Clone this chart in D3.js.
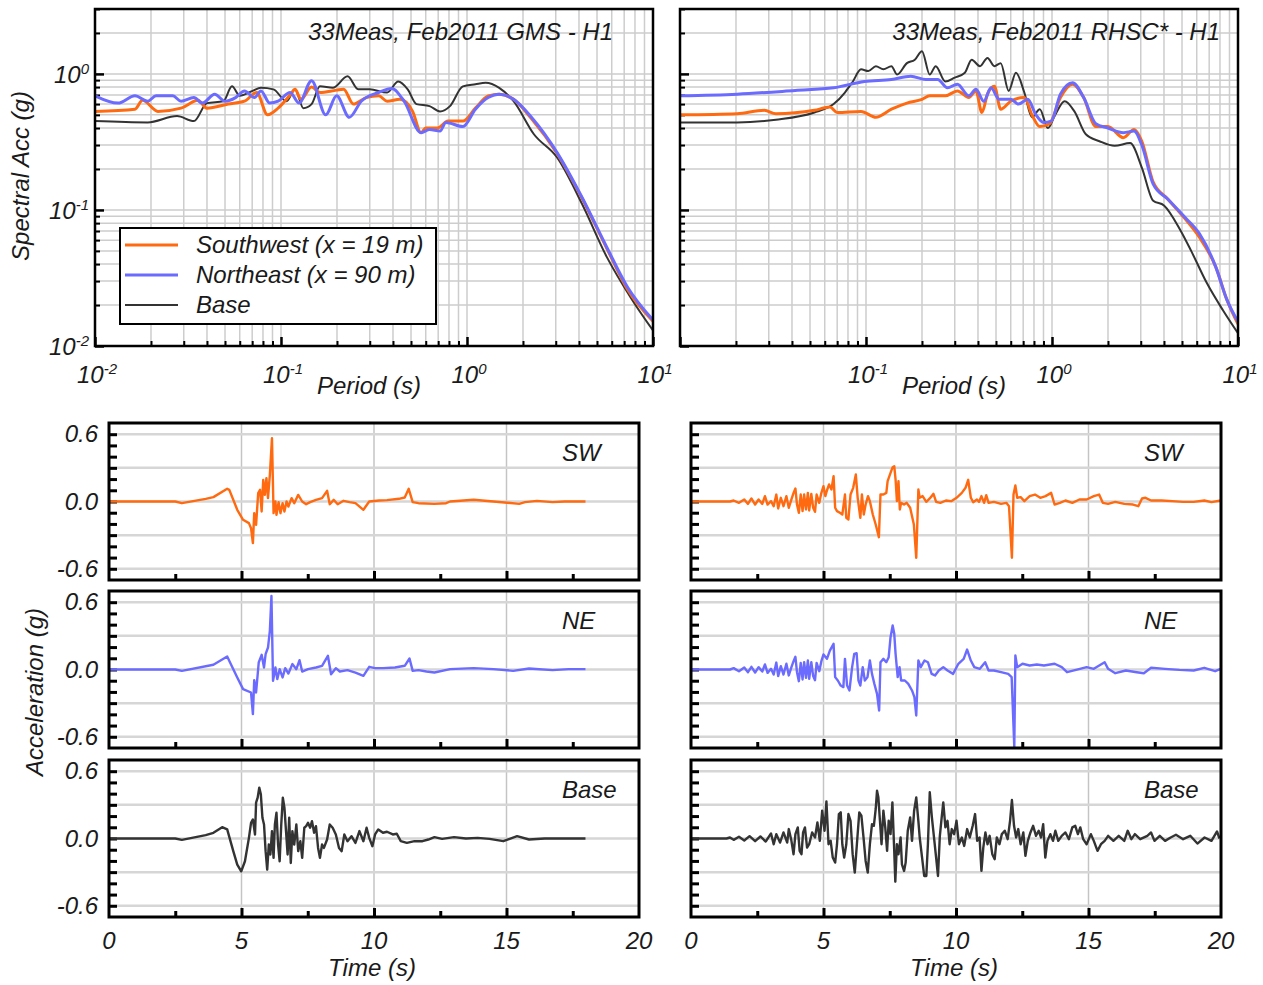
<!DOCTYPE html>
<html><head><meta charset="utf-8">
<script src="https://cdn.jsdelivr.net/npm/d3@7"></script>
<style>
body{margin:0;background:#fff}
text{font-family:"Liberation Sans",Arial,sans-serif;font-style:italic;fill:#1a1a1a}
</style>
</head><body>
<svg id="c" width="1263" height="985" xmlns="http://www.w3.org/2000/svg"></svg>
<script>
// ---------------- DATA ----------------
// Response spectra: [period (s), spectral acceleration (g)]
const gmsSW = [[0.01,0.53],[0.0164,0.55],[0.018,0.64],[0.0218,0.53],[0.029,0.56],[0.0358,0.64],[0.040,0.56],[0.052,0.60],[0.0636,0.63],[0.074,0.73],[0.0847,0.50],[0.0965,0.56],[0.112,0.70],[0.119,0.77],[0.128,0.65],[0.146,0.80],[0.162,0.73],[0.199,0.76],[0.217,0.77],[0.245,0.60],[0.287,0.67],[0.335,0.69],[0.372,0.63],[0.436,0.65],[0.51,0.53],[0.566,0.37],[0.60,0.40],[0.695,0.40],[0.79,0.45],[0.95,0.45],[1.11,0.56],[1.30,0.69],[1.49,0.71],[1.78,0.65],[2.22,0.47],[3.05,0.26],[4.15,0.122],[5.65,0.052],[7.3,0.026],[10,0.0152]];
const gmsNE = [[0.01,0.69],[0.0133,0.61],[0.0164,0.69],[0.0192,0.63],[0.0213,0.69],[0.0262,0.69],[0.029,0.63],[0.034,0.67],[0.0378,0.61],[0.044,0.71],[0.050,0.63],[0.057,0.67],[0.0636,0.75],[0.072,0.67],[0.078,0.75],[0.087,0.61],[0.0965,0.63],[0.112,0.73],[0.125,0.61],[0.146,0.89],[0.174,0.50],[0.199,0.69],[0.233,0.48],[0.27,0.63],[0.335,0.73],[0.394,0.78],[0.459,0.63],[0.566,0.37],[0.629,0.39],[0.716,0.38],[0.77,0.44],[0.95,0.41],[1.11,0.55],[1.30,0.67],[1.49,0.71],[1.78,0.65],[2.22,0.48],[3.05,0.264],[4.15,0.124],[5.65,0.053],[7.3,0.027],[10,0.0155]];
const gmsBase = [[0.01,0.45],[0.0192,0.44],[0.0276,0.49],[0.034,0.45],[0.040,0.61],[0.049,0.63],[0.0545,0.81],[0.060,0.69],[0.0703,0.75],[0.078,0.79],[0.091,0.77],[0.107,0.63],[0.119,0.77],[0.132,0.56],[0.146,0.60],[0.162,0.81],[0.19,0.79],[0.228,0.96],[0.26,0.77],[0.30,0.77],[0.372,0.73],[0.427,0.88],[0.48,0.77],[0.535,0.60],[0.629,0.58],[0.716,0.53],[0.81,0.58],[0.95,0.81],[1.11,0.84],[1.26,0.86],[1.49,0.79],[1.78,0.63],[2.29,0.36],[3.05,0.243],[4.15,0.111],[5.65,0.045],[7.7,0.022],[10,0.013]];
const rhscSW = [[0.01,0.50],[0.0203,0.51],[0.0284,0.54],[0.0328,0.51],[0.0528,0.54],[0.064,0.57],[0.070,0.52],[0.094,0.53],[0.113,0.48],[0.137,0.55],[0.166,0.61],[0.20,0.65],[0.22,0.69],[0.267,0.69],[0.31,0.75],[0.357,0.67],[0.39,0.75],[0.42,0.52],[0.45,0.71],[0.49,0.81],[0.53,0.55],[0.60,0.63],[0.71,0.67],[0.78,0.50],[0.86,0.41],[0.97,0.43],[1.11,0.67],[1.29,0.84],[1.48,0.67],[1.72,0.41],[2.0,0.41],[2.42,0.34],[2.76,0.39],[3.04,0.32],[3.5,0.16],[4.2,0.12],[5.2,0.086],[6.2,0.063],[7.6,0.038],[8.7,0.022],[10,0.0145]];
const rhscNE = [[0.01,0.69],[0.0203,0.71],[0.0416,0.755],[0.067,0.79],[0.098,0.88],[0.137,0.91],[0.174,0.96],[0.21,0.91],[0.243,0.91],[0.274,0.79],[0.31,0.84],[0.357,0.69],[0.39,0.77],[0.43,0.63],[0.47,0.79],[0.52,0.65],[0.60,0.65],[0.66,0.60],[0.74,0.65],[0.82,0.50],[0.90,0.44],[0.99,0.45],[1.11,0.71],[1.29,0.86],[1.48,0.67],[1.72,0.43],[2.0,0.40],[2.42,0.37],[2.76,0.38],[3.04,0.30],[3.5,0.155],[4.2,0.12],[5.2,0.088],[6.2,0.067],[7.6,0.038],[8.7,0.022],[10,0.0151]];
const rhscBase = [[0.01,0.44],[0.0203,0.44],[0.0328,0.46],[0.0528,0.52],[0.067,0.60],[0.077,0.73],[0.085,0.88],[0.094,1.08],[0.103,1.05],[0.113,1.14],[0.124,1.08],[0.137,1.14],[0.147,0.99],[0.166,1.20],[0.183,1.27],[0.20,1.47],[0.22,0.99],[0.237,1.14],[0.267,0.88],[0.30,0.94],[0.34,1.02],[0.37,1.27],[0.41,1.14],[0.45,1.31],[0.49,1.14],[0.53,1.20],[0.585,0.75],[0.64,1.02],[0.71,0.73],[0.78,0.48],[0.86,0.55],[0.95,0.40],[1.04,0.50],[1.17,0.63],[1.32,0.53],[1.52,0.36],[1.8,0.32],[2.17,0.296],[2.63,0.31],[3.04,0.205],[3.5,0.117],[4.0,0.108],[4.9,0.071],[5.6,0.050],[6.8,0.029],[8.3,0.0183],[10,0.0124]];

// Acceleration time histories: [time (s), acceleration (g)]
const gmsTH_SW = [[0,0],[2.5,0],[2.75,-0.015],[3.65,0.024],[3.94,0.039],[4.46,0.113],[4.54,0.104],[4.84,-0.074],[5.06,-0.163],[5.28,-0.193],[5.36,-0.238],[5.43,-0.371],[5.48,-0.104],[5.55,-0.208],[5.63,0.074],[5.70,0.104],[5.76,-0.089],[5.82,0.193],[5.88,0.059],[5.94,0.208],[6.00,0.030],[6.07,0.238],[6.15,0.564],[6.21,-0.104],[6.28,0],[6.32,-0.119],[6.40,-0.006],[6.47,-0.104],[6.55,-0.015],[6.62,-0.089],[6.70,0],[6.77,-0.045],[6.89,0.030],[6.99,-0.015],[7.14,0.059],[7.29,0],[7.44,-0.024],[7.59,-0.006],[7.81,0.015],[8.04,0.030],[8.23,0.095],[8.33,-0.024],[8.48,0.015],[8.63,-0.024],[8.85,0.006],[9.08,-0.006],[9.30,-0.015],[9.60,-0.074],[9.82,0],[10.19,0.009],[10.49,0.012],[10.94,0.024],[11.16,0.036],[11.31,0.113],[11.46,-0.006],[11.68,-0.015],[12.28,-0.021],[12.72,-0.015],[12.87,0],[13.76,0.015],[14.51,0],[15.48,-0.021],[15.70,-0.006],[16.15,0.006],[16.74,-0.006],[17.19,0],[17.98,0]];
const gmsTH_NE = [[0,0],[2.5,0],[2.75,-0.012],[3.94,0.042],[4.46,0.116],[4.84,-0.071],[5.06,-0.175],[5.36,-0.205],[5.43,-0.398],[5.48,-0.095],[5.55,-0.205],[5.65,0.062],[5.76,0.131],[5.85,0.018],[5.91,0.137],[6.00,0.196],[6.07,0.345],[6.13,0.656],[6.19,-0.101],[6.28,0.018],[6.35,-0.086],[6.44,0.003],[6.55,-0.071],[6.65,0.012],[6.77,-0.036],[6.92,0.048],[7.07,0.003],[7.19,0.083],[7.29,-0.018],[7.51,0.003],[7.81,0.018],[8.04,0.033],[8.26,0.122],[8.38,-0.042],[8.56,0.012],[8.71,-0.018],[9.00,-0.006],[9.30,-0.027],[9.60,-0.056],[9.82,0.024],[10.04,0.012],[10.34,0.012],[10.79,0.018],[11.16,0.033],[11.34,0.098],[11.46,-0.012],[11.68,-0.006],[11.98,-0.018],[12.28,-0.027],[12.87,0.003],[13.76,0.012],[14.51,0.003],[15.25,-0.012],[15.85,0.009],[16.74,-0.006],[17.34,0.003],[17.98,0.003]];
const gmsTH_Base = [[0,0],[2.5,0],[2.75,-0.012],[3.65,0.030],[3.94,0.051],[4.27,0.101],[4.46,0.081],[4.69,-0.113],[4.84,-0.233],[4.99,-0.293],[5.13,-0.203],[5.28,0.006],[5.36,0.140],[5.43,0.170],[5.51,0.036],[5.55,0.319],[5.61,0.364],[5.67,0.454],[5.73,0.394],[5.79,0.185],[5.85,0.125],[5.91,-0.113],[5.97,-0.278],[6.03,-0.054],[6.09,-0.143],[6.15,0.066],[6.21,-0.173],[6.26,0.125],[6.32,0.230],[6.38,-0.054],[6.44,-0.203],[6.50,0.125],[6.56,0.364],[6.62,0.275],[6.68,0.066],[6.74,-0.143],[6.80,0.185],[6.86,-0.218],[6.92,0.066],[6.99,-0.054],[7.07,0.125],[7.14,-0.113],[7.22,-0.024],[7.29,-0.173],[7.37,0.096],[7.44,0.110],[7.51,0.140],[7.59,0.096],[7.66,0.155],[7.74,0.051],[7.81,0.110],[7.89,-0.084],[7.96,-0.173],[8.04,-0.054],[8.11,-0.084],[8.23,-0.009],[8.33,0.125],[8.44,0.096],[8.56,0.036],[8.68,-0.084],[8.78,-0.113],[8.88,0.036],[9.00,-0.024],[9.15,0.021],[9.30,-0.039],[9.45,0.066],[9.60,-0.024],[9.72,0.096],[9.82,0.006],[9.94,-0.069],[10.04,0.036],[10.16,0.081],[10.34,0.051],[10.49,0.060],[10.71,0.036],[10.86,0.042],[11.01,-0.024],[11.24,-0.039],[11.53,-0.024],[11.83,-0.024],[12.05,-0.009],[12.28,0.012],[12.57,-0.003],[13.02,0.012],[13.47,0],[13.91,0.006],[14.36,-0.003],[14.88,-0.024],[15.40,0.021],[15.85,-0.009],[16.44,0],[17.04,0],[17.98,0]];
const rhscTH_SW = [[0,0],[1.47,0],[1.61,0.009],[1.81,-0.012],[2.01,0.018],[2.15,-0.021],[2.28,0.027],[2.42,-0.027],[2.55,0.018],[2.69,-0.021],[2.79,0.048],[2.89,-0.027],[3.02,0.003],[3.12,-0.042],[3.22,0.062],[3.29,-0.062],[3.39,0.033],[3.49,-0.042],[3.60,0.048],[3.69,-0.056],[3.79,0.018],[3.87,0.077],[3.94,0.116],[4.00,-0.027],[4.07,-0.101],[4.14,0.062],[4.21,-0.086],[4.27,0.062],[4.34,-0.071],[4.41,0.077],[4.46,-0.080],[4.54,0.068],[4.61,-0.056],[4.68,-0.092],[4.74,0.062],[4.84,-0.012],[4.92,0.077],[5.00,0.137],[5.07,0.048],[5.13,0.098],[5.21,0.152],[5.30,0.107],[5.38,0.226],[5.44,-0.056],[5.51,-0.086],[5.62,-0.101],[5.71,-0.116],[5.81,0.062],[5.86,-0.146],[5.94,-0.160],[6.02,0.062],[6.12,0.122],[6.22,0.241],[6.29,0.033],[6.39,-0.146],[6.45,0.062],[6.52,-0.116],[6.59,-0.027],[6.68,0.048],[6.75,0.003],[6.86,-0.116],[6.97,-0.205],[7.09,-0.318],[7.15,0.062],[7.26,0.062],[7.37,0.077],[7.42,0.181],[7.53,0.255],[7.61,0.306],[7.67,0.315],[7.72,0.196],[7.77,0.003],[7.83,0.181],[7.88,-0.071],[7.93,-0.012],[8.04,-0.027],[8.14,-0.012],[8.27,-0.056],[8.41,-0.205],[8.50,-0.502],[8.58,0.107],[8.63,0.033],[8.74,0.048],[8.88,-0.003],[9.01,0.027],[9.15,0.068],[9.25,-0.003],[9.41,-0.012],[9.62,0.009],[9.82,0.003],[10.02,0.033],[10.22,0.077],[10.36,0.122],[10.46,0.193],[10.56,0.033],[10.65,-0.006],[10.79,0.018],[10.87,-0.003],[10.96,0.048],[11.06,-0.012],[11.14,0.056],[11.23,-0.012],[11.43,-0.003],[11.70,-0.021],[11.90,-0.012],[12.00,-0.042],[12.11,-0.502],[12.17,0.062],[12.24,0.143],[12.31,0.033],[12.44,0.039],[12.58,0.003],[12.78,0.048],[12.98,0.062],[13.18,0.033],[13.38,0.048],[13.59,0.077],[13.72,-0.027],[13.92,-0.012],[14.13,0.009],[14.39,-0.012],[14.66,0.018],[14.93,0.018],[15.20,0.048],[15.40,0.062],[15.54,-0.012],[15.74,-0.021],[16.01,-0.003],[16.35,-0.021],[16.68,-0.027],[16.88,-0.042],[17.02,0.027],[17.15,0.033],[17.36,0.009],[17.76,0.009],[18.16,0.003],[18.57,-0.003],[18.97,-0.003],[19.37,0.009],[19.64,-0.006],[19.99,0.009]];
const rhscTH_NE = [[0,0],[1.47,0],[1.61,0.012],[1.81,-0.015],[2.01,0.018],[2.15,-0.024],[2.28,0.024],[2.42,-0.027],[2.55,0.021],[2.69,-0.018],[2.79,0.045],[2.89,-0.030],[3.02,0.006],[3.12,-0.045],[3.22,0.062],[3.29,-0.059],[3.39,0.030],[3.49,-0.045],[3.60,0.051],[3.69,-0.053],[3.79,0.021],[3.87,0.074],[3.94,0.113],[4.00,-0.024],[4.07,-0.104],[4.14,0.059],[4.21,-0.089],[4.27,0.065],[4.34,-0.074],[4.41,0.080],[4.46,-0.083],[4.54,0.065],[4.61,-0.059],[4.68,-0.095],[4.74,0.059],[4.84,-0.015],[4.92,0.074],[5.00,0.134],[5.13,0.095],[5.24,0.169],[5.38,0.229],[5.44,-0.068],[5.54,-0.098],[5.65,-0.143],[5.75,-0.157],[5.81,0.095],[5.89,-0.143],[5.98,-0.187],[6.08,0.021],[6.16,0.139],[6.25,0.145],[6.32,-0.098],[6.39,-0.143],[6.48,0.021],[6.56,-0.098],[6.66,-0.068],[6.75,0.080],[6.83,-0.039],[6.92,-0.128],[7.02,-0.217],[7.10,-0.366],[7.15,0.065],[7.26,0.095],[7.37,0.065],[7.46,0.110],[7.53,0.288],[7.61,0.392],[7.67,0.318],[7.72,0.140],[7.80,-0.068],[7.87,0.021],[7.93,-0.098],[8.07,-0.098],[8.20,-0.128],[8.34,-0.187],[8.43,-0.247],[8.50,-0.410],[8.58,0.080],[8.67,0.021],[8.81,0.080],[8.94,0.065],[9.08,-0.039],[9.21,-0.053],[9.35,-0.009],[9.52,0.021],[9.68,-0.009],[9.89,-0.039],[10.09,0.051],[10.29,0.095],[10.42,0.178],[10.56,0.080],[10.69,0.021],[10.90,0.006],[11.10,0.065],[11.23,-0.009],[11.43,-0.009],[11.70,-0.024],[11.97,-0.039],[12.10,-0.068],[12.20,-0.690],[12.24,0.125],[12.31,0.021],[12.51,0.051],[12.78,0.036],[13.05,0.045],[13.32,0.036],[13.72,0.051],[13.99,0.021],[14.19,-0.024],[14.53,-0.003],[14.93,0.021],[15.20,0.006],[15.61,0.065],[15.74,0.006],[16.01,-0.033],[16.41,-0.009],[16.82,-0.024],[17.09,-0.033],[17.36,0.015],[17.89,0.006],[18.43,-0.003],[18.97,-0.009],[19.37,0.015],[19.78,-0.015],[19.99,0.006]];
const rhscTH_Base = [[0,0],[1.34,0],[1.47,0.009],[1.61,-0.012],[1.81,0.015],[2.01,-0.018],[2.21,0.021],[2.42,-0.024],[2.62,0.018],[2.82,-0.027],[3.02,0.045],[3.12,-0.051],[3.22,0.039],[3.36,-0.036],[3.49,0.054],[3.63,-0.036],[3.69,0.084],[3.79,-0.021],[3.87,-0.140],[3.94,0.039],[4.03,0.099],[4.10,-0.110],[4.17,-0.140],[4.23,0.054],[4.30,0.099],[4.38,-0.081],[4.46,-0.051],[4.57,0.054],[4.68,0.009],[4.77,0.143],[4.86,-0.021],[4.95,0.248],[5.04,0.069],[5.11,0.331],[5.19,-0.051],[5.27,-0.021],[5.35,-0.170],[5.44,-0.215],[5.51,-0.051],[5.58,0.218],[5.65,0.233],[5.71,-0.051],[5.78,-0.170],[5.86,-0.051],[5.94,0.218],[6.02,0.158],[6.10,-0.140],[6.18,-0.304],[6.26,-0.051],[6.35,0.233],[6.43,0.203],[6.51,0.009],[6.59,-0.200],[6.67,-0.304],[6.75,-0.051],[6.83,0.128],[6.90,0.113],[6.97,0.263],[7.02,0.427],[7.07,0.367],[7.13,0.158],[7.19,-0.051],[7.26,0.248],[7.33,0.099],[7.40,-0.110],[7.46,0.158],[7.53,0.039],[7.60,0.322],[7.66,-0.051],[7.71,-0.385],[7.77,-0.051],[7.83,-0.140],[7.91,0.009],[7.96,-0.230],[8.04,-0.289],[8.10,-0.215],[8.18,0.069],[8.27,0.188],[8.34,-0.021],[8.42,0.248],[8.50,0.367],[8.58,0.158],[8.63,0.009],[8.72,-0.170],[8.80,-0.334],[8.88,-0.334],[8.94,-0.051],[9.01,0.412],[9.09,0.188],[9.17,0.009],[9.25,-0.170],[9.32,-0.334],[9.39,0.021],[9.46,0.188],[9.52,0.322],[9.60,0.099],[9.68,0.158],[9.76,-0.051],[9.84,0.084],[9.93,0.039],[10.02,0.158],[10.11,-0.051],[10.22,0.009],[10.31,-0.066],[10.42,0.084],[10.52,0.009],[10.63,0.113],[10.72,0.218],[10.80,-0.021],[10.89,0.009],[10.96,-0.289],[11.03,-0.081],[11.11,0.054],[11.19,-0.051],[11.27,0.024],[11.37,-0.140],[11.46,-0.185],[11.54,0.009],[11.64,-0.051],[11.73,0.039],[11.84,0.069],[11.95,-0.006],[12.04,0.158],[12.11,0.343],[12.19,0.113],[12.27,0.009],[12.35,0.084],[12.44,-0.051],[12.54,0.054],[12.62,-0.155],[12.71,-0.021],[12.81,0.054],[12.91,0.113],[13.02,0.024],[13.12,0.069],[13.21,0.009],[13.29,0.128],[13.37,-0.170],[13.45,-0.021],[13.56,0.039],[13.66,-0.021],[13.75,0.069],[13.86,-0.021],[13.99,0.024],[14.13,0.054],[14.26,-0.006],[14.39,0.099],[14.50,0.113],[14.60,0.039],[14.69,0.099],[14.80,-0.006],[14.93,-0.051],[15.09,0.039],[15.20,-0.021],[15.34,-0.110],[15.47,-0.051],[15.61,-0.021],[15.74,0.024],[15.94,-0.021],[16.14,0.024],[16.35,-0.021],[16.48,0.069],[16.62,-0.006],[16.75,0.039],[16.95,-0.006],[17.22,0.024],[17.36,0.054],[17.49,-0.021],[17.69,0.024],[17.89,-0.021],[18.10,0.009],[18.30,0.033],[18.57,-0.006],[18.84,0.024],[19.11,-0.045],[19.38,0.009],[19.64,-0.021],[19.85,0.063],[19.94,0]];

// Text / tick labels
const specTitles = ["33Meas, Feb2011 GMS - H1", "33Meas, Feb2011 RHSC* - H1"];
const legendLabels = ["Southwest (x = 19 m)", "Northeast (x = 90 m)", "Base"];
const rowLabels = ["SW", "NE", "Base"];
const accTicks = [0.6, 0.0, -0.6];
const timeTicks = [0, 5, 10, 15, 20];

// ---------------- DRAWING ----------------
const COL = {sw: "#ff6a10", ne: "#6b6bff", base: "#333333"};
const GRID = "#cdcdcd";
const FS = "24px";
const svg = d3.select("#c");
const defs = svg.append("defs");
let clipN = 0;

function clip(x0, y0, w, h) {
  const id = "cp" + (clipN++);
  defs.append("clipPath").attr("id", id).append("rect").attr("x", x0).attr("y", y0).attr("width", w).attr("height", h);
  return "url(#" + id + ")";
}

function inwardTicks(g, axisFn, scale, values, len, w) {
  const a = axisFn(scale).tickValues(values).tickSize(-len).tickFormat("");
  g.call(a);
  g.select(".domain").remove();
  g.selectAll(".tick line").attr("stroke", "#000").attr("stroke-width", w || 2);
  g.selectAll(".tick text").remove();
}

function powLabel(g, x, y, exp, anchor) {
  const t = g.append("text").attr("x", x).attr("y", y).attr("text-anchor", anchor).style("font-size", FS);
  t.append("tspan").text("10");
  t.append("tspan").attr("dy", -9).style("font-size", "15px").text(String(exp));
}

// ---- spectra panels ----
const specPanels = [
  {x0: 95, x1: 653, title: specTitles[0], titleX: 613, data: [gmsSW, gmsNE, gmsBase], yLabels: true, xLabels: [-2, -1, 0, 1]},
  {x0: 680, x1: 1238, title: specTitles[1], titleX: 1220, data: [rhscSW, rhscNE, rhscBase], yLabels: false, xLabels: [-1, 0, 1]}
];
const sy0 = 9, sy1 = 346;

specPanels.forEach(p => {
  const g = svg.append("g");
  const x = d3.scaleLog().domain([0.01, 10]).range([p.x0, p.x1]);
  const y = d3.scaleLog().domain([0.01, 3]).range([sy1, sy0]);
  const xMinor = [], yMinor = [], xMajor = [], yMajor = [];
  [0.01, 0.1, 1].forEach(d => { for (let k = 1; k <= 9; k++) { const v = +(k * d).toPrecision(3); (k === 1 ? xMajor : xMinor).push(v); if (v <= 3) (k === 1 ? yMajor : yMinor).push(v); } });
  xMajor.push(10);
  // grid
  g.append("g").selectAll("line").data(xMinor.concat(xMajor).filter(v => v > 0.01 && v < 10)).join("line")
    .attr("x1", d => x(d)).attr("x2", d => x(d)).attr("y1", sy0).attr("y2", sy1).attr("stroke", GRID).attr("stroke-width", 1.5);
  g.append("g").selectAll("line").data(yMinor.concat(yMajor).filter(v => v > 0.01 && v < 3)).join("line")
    .attr("y1", d => y(d)).attr("y2", d => y(d)).attr("x1", p.x0).attr("x2", p.x1).attr("stroke", GRID).attr("stroke-width", 1.5);
  // ticks
  inwardTicks(g.append("g").attr("transform", `translate(0,${sy1})`), d3.axisBottom, x, xMajor, 9, 2.5);
  inwardTicks(g.append("g").attr("transform", `translate(0,${sy1})`), d3.axisBottom, x, xMinor, 5, 2);
  inwardTicks(g.append("g").attr("transform", `translate(${p.x0},0)`), d3.axisLeft, y, yMajor, 9, 2.5);
  inwardTicks(g.append("g").attr("transform", `translate(${p.x0},0)`), d3.axisLeft, y, yMinor, 5, 2);
  // curves
  const line = d3.line().x(d => x(d[0])).y(d => y(d[1])).curve(d3.curveMonotoneX);
  const cp = clip(p.x0, sy0, p.x1 - p.x0, sy1 - sy0);
  const lg = g.append("g").attr("clip-path", cp);
  const styles = [[COL.sw, 3], [COL.ne, 3], [COL.base, 2]];
  [2, 0, 1].forEach(i => {
    lg.append("path").datum(p.data[i]).attr("d", line).attr("fill", "none")
      .attr("stroke", styles[i][0]).attr("stroke-width", styles[i][1]).attr("stroke-linejoin", "round");
  });
  // frame
  g.append("rect").attr("x", p.x0).attr("y", sy0).attr("width", p.x1 - p.x0).attr("height", sy1 - sy0)
    .attr("fill", "none").attr("stroke", "#000").attr("stroke-width", 2.5);
  // title
  g.append("text").attr("x", p.titleX).attr("y", 40).attr("text-anchor", "end").style("font-size", FS).text(p.title);
  // labels
  p.xLabels.forEach(e => powLabel(g, x(Math.pow(10, e)) + 2, 383, e, "middle"));
  if (p.yLabels) {
    [-2, -1, 0].forEach(e => powLabel(g, p.x0 - 6, y(Math.pow(10, e)) + 9, e, "end"));
  }
  g.append("text").attr("x", (p.x0 + p.x1) / 2 - 5).attr("y", 394).attr("text-anchor", "middle").style("font-size", FS).text("Period (s)");
});

// y title for spectra
svg.append("text").attr("transform", "translate(29,176) rotate(-90)").attr("text-anchor", "middle").style("font-size", FS).text("Spectral Acc (g)");

// legend
{
  const lg = svg.append("g");
  lg.append("rect").attr("x", 120).attr("y", 228).attr("width", 316).attr("height", 96).attr("fill", "#fff").attr("stroke", "#000").attr("stroke-width", 2);
  const cols = [[COL.sw, 3], [COL.ne, 3], [COL.base, 2]];
  legendLabels.forEach((t, i) => {
    const yy = 245 + i * 30;
    lg.append("line").attr("x1", 125).attr("x2", 178).attr("y1", yy).attr("y2", yy).attr("stroke", cols[i][0]).attr("stroke-width", cols[i][1]);
    lg.append("text").attr("x", 196).attr("y", yy + 8).style("font-size", FS).text(t);
  });
}

// ---- time-history panels ----
const thCols = [
  {x0: 109, x1: 639, data: [gmsTH_SW, gmsTH_NE, gmsTH_Base], yLabels: true},
  {x0: 691, x1: 1221, data: [rhscTH_SW, rhscTH_NE, rhscTH_Base], yLabels: false}
];
const rowTops = [423, 591, 760];
const rowH = 157;
const rowColors = [COL.sw, COL.ne, COL.base];

thCols.forEach(c => {
  const x = d3.scaleLinear().domain([0, 20]).range([c.x0, c.x1]);
  rowTops.forEach((top, r) => {
    const g = svg.append("g");
    const y = d3.scaleLinear().domain([-0.7, 0.7]).range([top + rowH, top]);
    // grid
    g.append("g").selectAll("line").data([5, 10, 15]).join("line")
      .attr("x1", d => x(d)).attr("x2", d => x(d)).attr("y1", top).attr("y2", top + rowH).attr("stroke", "#c4c4c4").attr("stroke-width", 1.5);
    g.append("g").selectAll("line").data([-0.6, -0.3, 0, 0.3, 0.6]).join("line")
      .attr("y1", d => y(d)).attr("y2", d => y(d)).attr("x1", c.x0).attr("x2", c.x1).attr("stroke", "#d6d6d6").attr("stroke-width", 2.5);
    // ticks
    inwardTicks(g.append("g").attr("transform", `translate(0,${top + rowH})`), d3.axisBottom, x, [5, 10, 15], 9, 3);
    inwardTicks(g.append("g").attr("transform", `translate(0,${top + rowH})`), d3.axisBottom, x, [2.5, 7.5, 12.5, 17.5], 6, 3);
    inwardTicks(g.append("g").attr("transform", `translate(${c.x0},0)`), d3.axisLeft, y, d3.range(-6, 7).map(k => k / 10), 8, 3);
    // trace
    const cp = clip(c.x0, top, c.x1 - c.x0, rowH);
    const line = d3.line().x(d => x(d[0])).y(d => y(d[1]));
    g.append("path").attr("clip-path", cp).datum(c.data[r]).attr("d", line).attr("fill", "none")
      .attr("stroke", rowColors[r]).attr("stroke-width", 2.4).attr("stroke-linejoin", "round");
    // frame
    g.append("rect").attr("x", c.x0).attr("y", top).attr("width", c.x1 - c.x0).attr("height", rowH)
      .attr("fill", "none").attr("stroke", "#000").attr("stroke-width", 3);
    // row label
    g.append("text").attr("x", c.x0 + 453).attr("y", top + 38).style("font-size", FS).text(rowLabels[r]);
    if (c.yLabels) {
      accTicks.forEach(v => g.append("text").attr("x", c.x0 - 11).attr("y", y(v) + 8).attr("text-anchor", "end")
        .style("font-size", FS).text(v.toFixed(1)));
    }
  });
  // time axis labels
  timeTicks.forEach(v => svg.append("text").attr("x", x(v)).attr("y", 949).attr("text-anchor", "middle").style("font-size", FS).text(v));
  svg.append("text").attr("x", (c.x0 + c.x1) / 2 - 2).attr("y", 976).attr("text-anchor", "middle").style("font-size", FS).text("Time (s)");
});

svg.append("text").attr("transform", "translate(43,692) rotate(-90)").attr("text-anchor", "middle").style("font-size", FS).text("Acceleration (g)");
</script>
</body></html>
